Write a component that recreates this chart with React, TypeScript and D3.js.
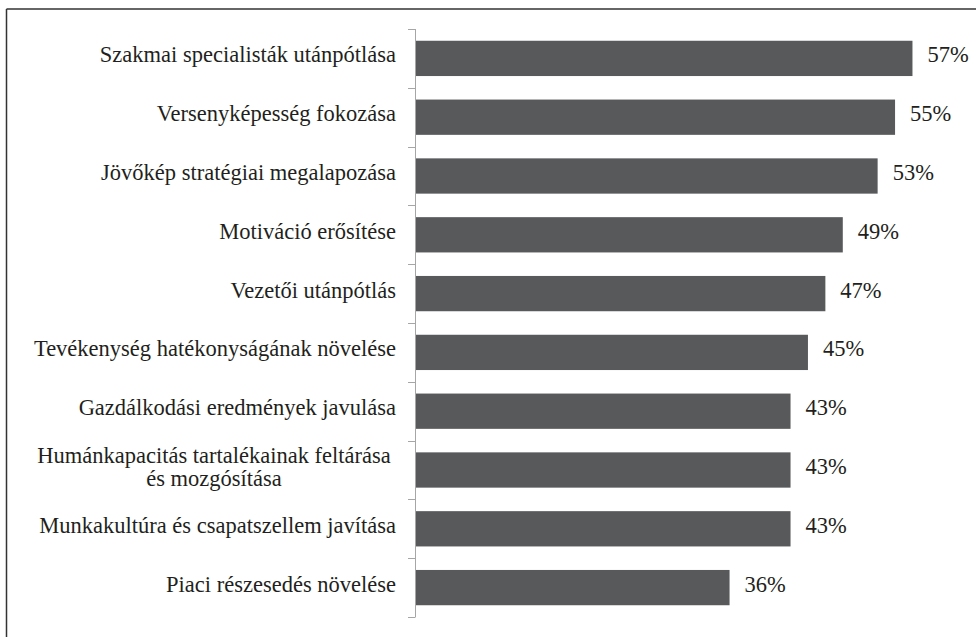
import React from 'react';
import * as d3 from 'd3';

const categories = [
  'Szakmai specialisták utánpótlása',
  'Versenyképesség fokozása',
  'Jövőkép stratégiai megalapozása',
  'Motiváció erősítése',
  'Vezetői utánpótlás',
  'Tevékenység hatékonyságának növelése',
  'Gazdálkodási eredmények javulása',
  'Humánkapacitás tartalékainak feltárása\nés mozgósítása',
  'Munkakultúra és csapatszellem javítása',
  'Piaci részesedés növelése',
];
const values = [57, 55, 53, 49, 47, 45, 43, 43, 43, 36];

const W = 976;
const H = 637;
const textStyle = { fontFamily: '"Liberation Serif", "Times New Roman", serif', fontSize: '22.5px' };

function App() {
  const x = d3.scaleLinear().domain([0, 60]).range([416, 938.6]);
  const y = d3.scaleBand().domain(categories).range([29, 617]).paddingInner(0.4).paddingOuter(0.2);
  const step = y.step();
  const ticks = d3.range(categories.length + 1).map(i => Math.round(29 + i * step) + 0.5);

  return (
    <svg width={W} height={H} style={{ position: 'absolute', left: 0, top: 0, background: '#fff' }}>
      {/* frame: only top and left edges are visible */}
      <line x1={6.5} x2={W} y1={9} y2={9} stroke="#333" strokeWidth={1.5} />
      <line x1={6.5} x2={6.5} y1={9} y2={H} stroke="#333" strokeWidth={1.5} />

      {values.map((v, i) => (
        <rect key={i} x={x(0)} y={y(categories[i])} width={x(v) - x(0)} height={y.bandwidth()} fill="#58595b" />
      ))}

      <g stroke="#a6a6a6" strokeWidth={1}>
        <line x1={415.5} x2={415.5} y1={29} y2={617} />
        {ticks.map((t, i) => <line key={i} x1={408} x2={415.5} y1={t} y2={t} />)}
      </g>

      {categories.map(c => {
        const lines = c.split('\n');
        const cy = y(c)! + y.bandwidth() / 2 + 4;
        if (lines.length === 1) {
          return <text key={c} x={396} y={cy} textAnchor="end" fill="#231f20" style={textStyle}>{c}</text>;
        }
        return lines.map((ln, j) => (
          <text key={c + j} x={214} y={cy + (j - (lines.length - 1) / 2) * 23} textAnchor="middle" fill="#231f20" style={textStyle}>{ln}</text>
        ));
      })}
      {values.map((v, i) => (
        <text key={'v' + i} x={x(v) + 15} y={y(categories[i])! + y.bandwidth() / 2 + 4} fill="#231f20" style={textStyle}>{`${v}%`}</text>
      ))}
    </svg>
  );
}

export default App;
